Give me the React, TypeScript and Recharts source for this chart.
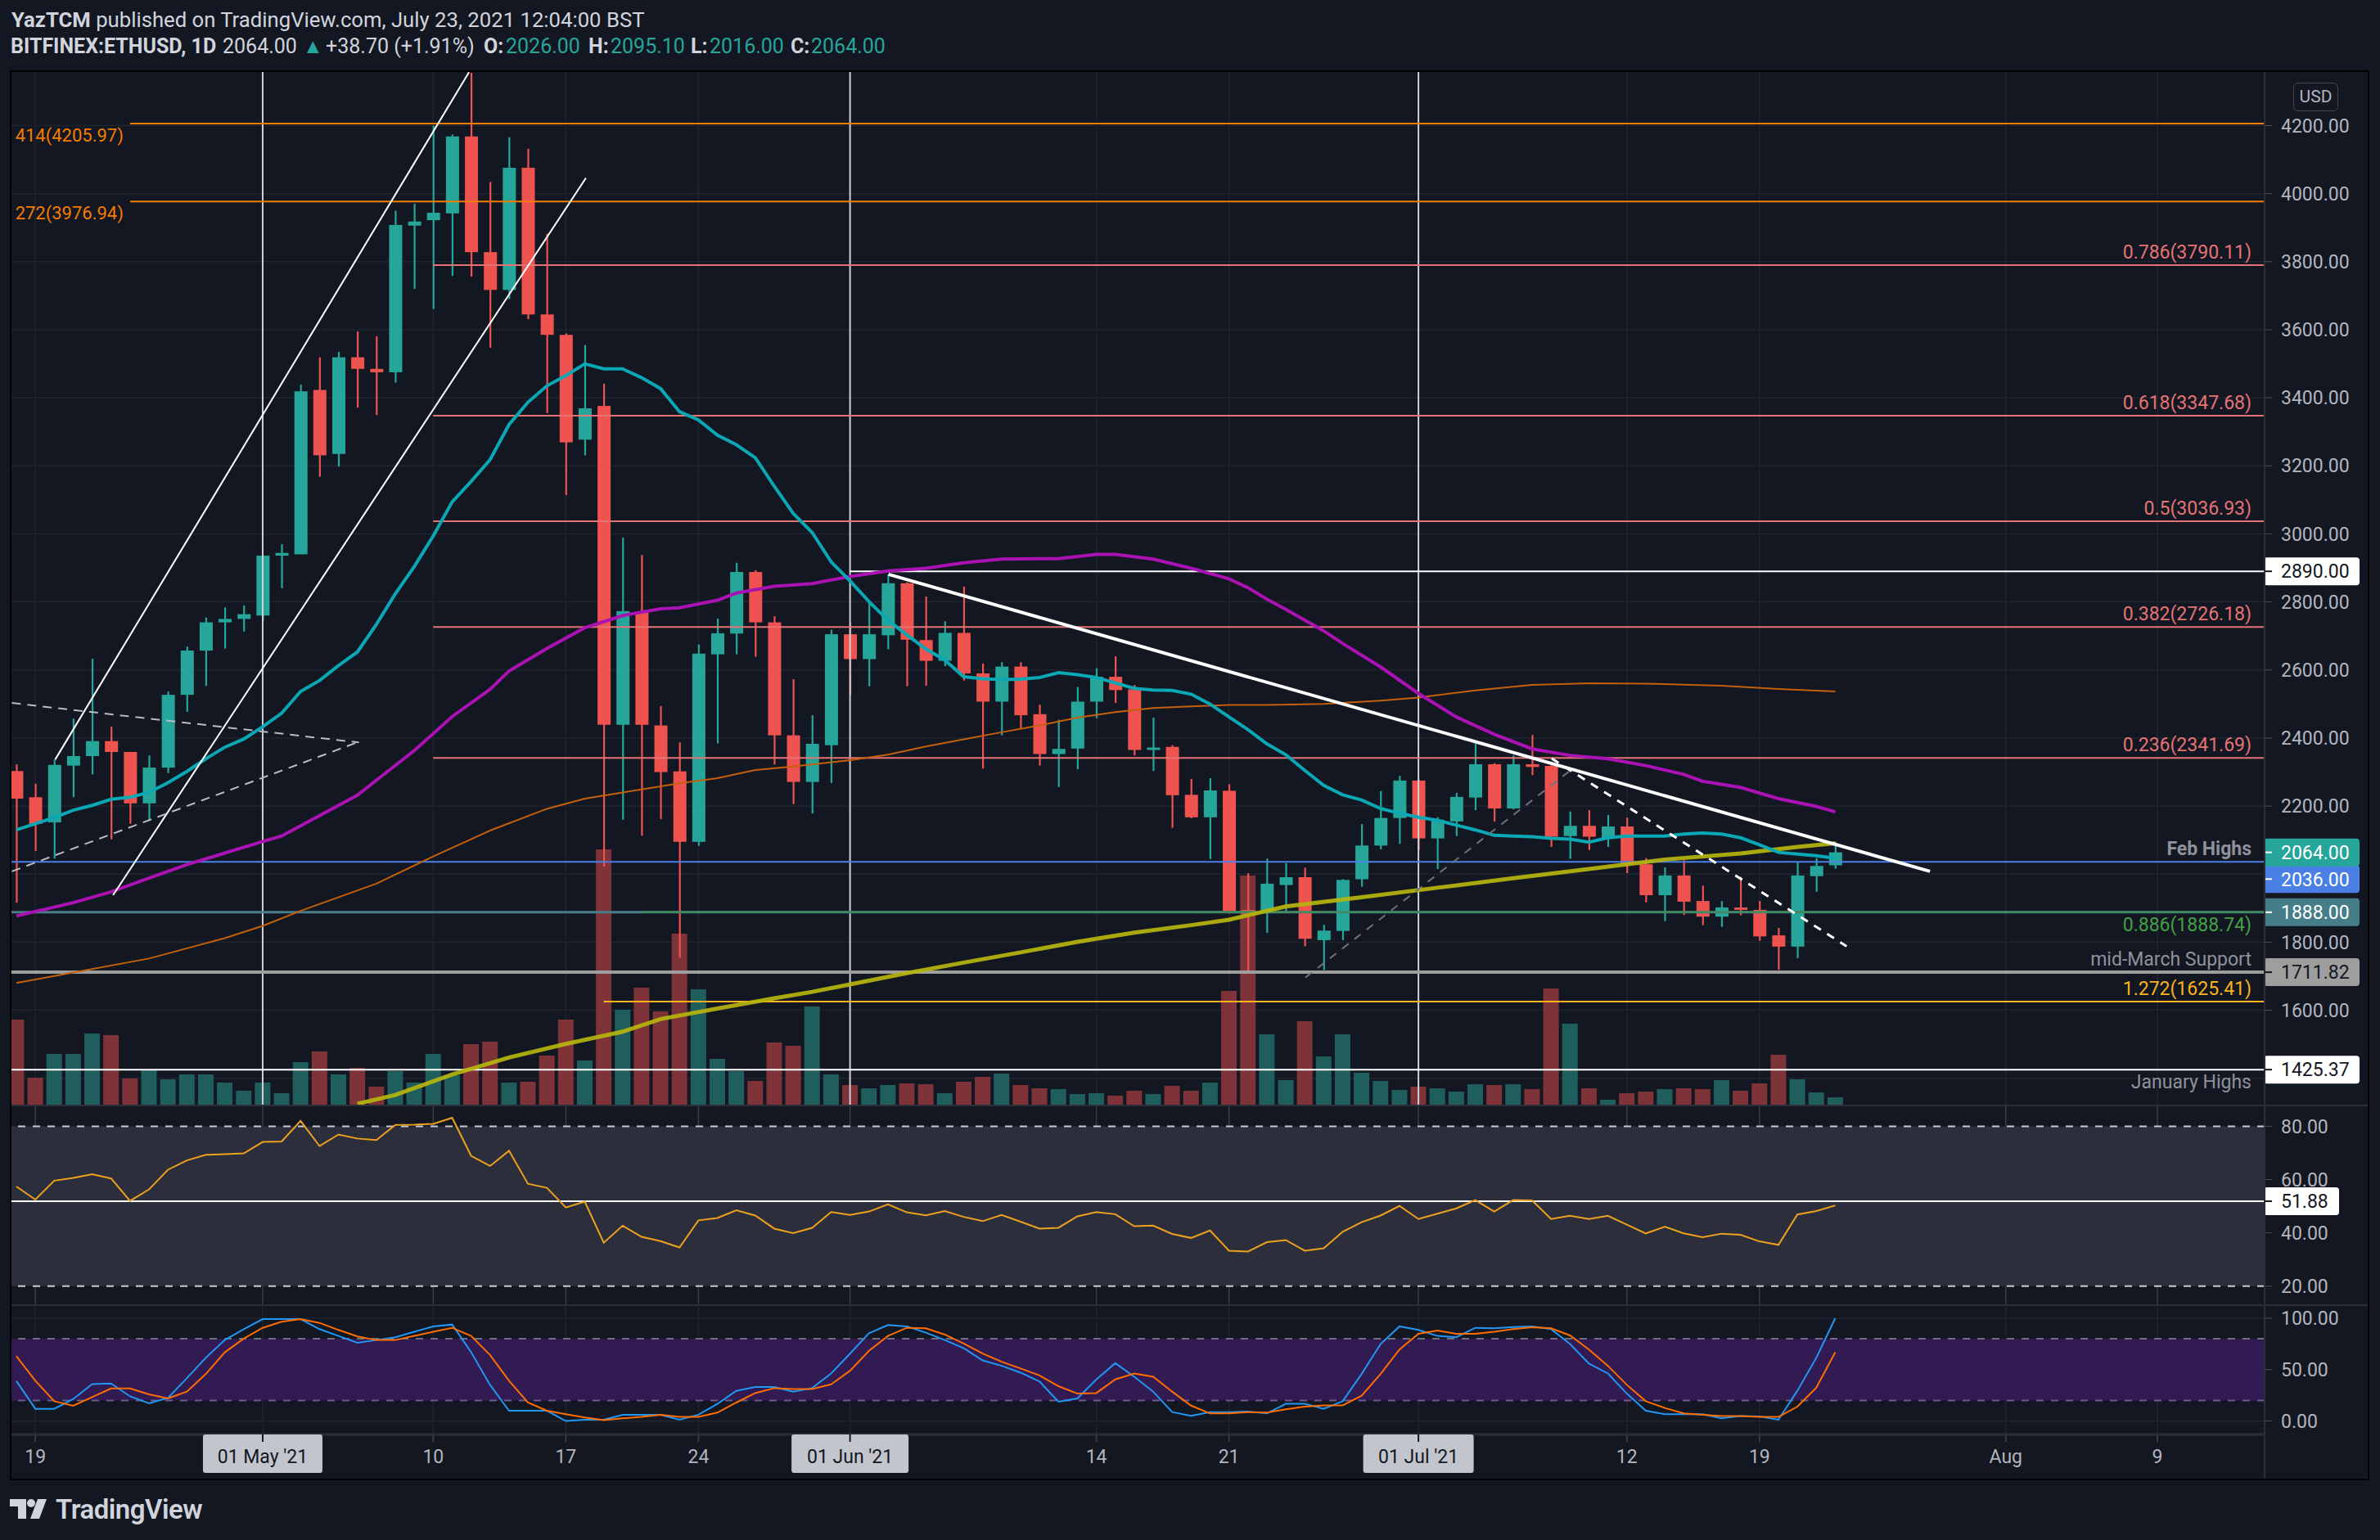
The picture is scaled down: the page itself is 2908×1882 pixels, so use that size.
import React from 'react';
import { ComposedChart, Bar, Line, XAxis, YAxis, CartesianGrid, ReferenceLine, ReferenceArea } from 'recharts';

// ---------------- data (one daily candle, 18 Apr 2021 .. 23 Jul 2021) ----------------
const FIRST_DAY = -1; // day index relative to 19 Apr 2021

const OPEN = [
  2303, 2226, 2152, 2319, 2347, 2391, 2359, 2208, 2313, 2527,
  2657, 2740, 2750, 2760, 2936, 2940, 3423, 3235, 3519, 3485,
  3475, 3906, 3922, 3942, 4168, 3828, 3717, 4076, 3645, 3585,
  3277, 3376, 2439, 2770, 2437, 2302, 2095, 2646, 2707, 2888,
  2740, 2408, 2271, 2379, 2705, 2632, 2702, 2855, 2688, 2627,
  2709, 2590, 2507, 2610, 2470, 2353, 2369, 2507, 2580, 2543,
  2365, 2374, 2233, 2167, 2245, 1895, 1885, 1968, 1991, 1806,
  1833, 1985, 2084, 2165, 2275, 2105, 2155, 2225, 2323, 2193,
  2323, 2318, 2112, 2142, 2106, 2140, 2029, 1938, 1996, 1921,
  1875, 1902, 1895, 1820, 1787, 1994, 2026,
];
const HIGH = [
  2323, 2266, 2337, 2457, 2633, 2433, 2359, 2349, 2537, 2669,
  2754, 2784, 2790, 2936, 2970, 3439, 3519, 3535, 3595, 3581,
  3950, 3970, 4200, 4174, 4355, 4034, 4166, 4132, 3882, 3589,
  3555, 3441, 2989, 2938, 2494, 2387, 2675, 2751, 2915, 2893,
  2758, 2573, 2467, 2718, 2738, 2797, 2881, 2858, 2816, 2743,
  2845, 2619, 2623, 2623, 2498, 2454, 2550, 2605, 2640, 2556,
  2460, 2379, 2280, 2282, 2264, 2003, 2046, 2032, 2019, 1851,
  1985, 2147, 2244, 2289, 2278, 2167, 2239, 2383, 2326, 2349,
  2409, 2320, 2184, 2188, 2174, 2166, 2047, 2020, 2041, 1966,
  1921, 1992, 1921, 1842, 2035, 2047, 2095.1,
];
const LOW = [
  1916, 2068, 2046, 2226, 2293, 2102, 2148, 2160, 2297, 2477,
  2553, 2663, 2713, 2744, 2840, 2940, 3168, 3198, 3371, 3349,
  3445, 3720, 3661, 3758, 3756, 3547, 3690, 3631, 3355, 3114,
  3231, 2022, 2160, 2113, 2162, 1754, 2083, 2384, 2646, 2639,
  2322, 2206, 2178, 2268, 2525, 2552, 2661, 2552, 2554, 2611,
  2569, 2310, 2408, 2426, 2319, 2256, 2308, 2458, 2503, 2349,
  2303, 2136, 2164, 2044, 1884, 1716, 1827, 1891, 1788, 1718,
  1806, 1963, 2073, 2089, 2070, 2015, 2112, 2188, 2155, 2190,
  2291, 2080, 2045, 2071, 2080, 2003, 1917, 1862, 1880, 1850,
  1845, 1879, 1804, 1719, 1753, 1948, 2016,
];
const CLOSE = [
  2222, 2148, 2321, 2347, 2391, 2359, 2208, 2313, 2527, 2657,
  2740, 2750, 2764, 2936, 2944, 3419, 3231, 3519, 3485, 3475,
  3908, 3918, 3944, 4168, 3828, 3717, 4076, 3645, 3585, 3269,
  3369, 2439, 2773, 2439, 2300, 2095, 2648, 2708, 2888, 2740,
  2408, 2271, 2383, 2705, 2632, 2705, 2855, 2689, 2627, 2709,
  2590, 2507, 2610, 2467, 2353, 2368, 2507, 2580, 2541, 2365,
  2372, 2232, 2167, 2246, 1891, 1882, 1972, 1991, 1810, 1834,
  1983, 2084, 2165, 2275, 2105, 2160, 2227, 2323, 2193, 2323,
  2315, 2110, 2142, 2110, 2140, 2029, 1938, 1996, 1919, 1875,
  1902, 1895, 1817, 1787, 1996, 2024, 2064,
];
// volume (relative units)
const VOLUME = [
  104, 33, 62, 62, 87, 85, 32, 42, 31, 37,
  37, 27, 17, 27, 14, 52, 65, 37, 45, 22,
  41, 27, 62, 36, 74, 77, 27, 28, 60, 104,
  54, 312, 116, 143, 114, 209, 141, 56, 41, 29,
  76, 72, 120, 37, 24, 20, 24, 26, 25, 14,
  28, 34, 38, 24, 20, 19, 13, 14, 11, 17,
  13, 23, 17, 27, 139, 280, 86, 30, 102, 59,
  86, 39, 29, 18, 22, 20, 16, 25, 24, 25,
  19, 142, 99, 20, 6, 14, 16, 19, 20, 19,
  30, 17, 26, 61, 31, 15, 9,
];
const MA20 = [
  2130, 2148, 2166, 2188, 2202, 2220, 2226, 2240, 2269, 2302,
  2339, 2373, 2397, 2433, 2473, 2537, 2569, 2613, 2653, 2734,
  2824, 2904, 2994, 3094, 3154, 3218, 3321, 3387, 3435, 3465,
  3500, 3485, 3485, 3459, 3427, 3359, 3335, 3290, 3262, 3224,
  3140, 3060, 3004, 2918, 2862, 2801, 2746, 2703, 2662, 2629,
  2580, 2574, 2572, 2573, 2578, 2592, 2586, 2578, 2562, 2546,
  2541, 2540, 2529, 2500, 2462, 2425, 2383, 2351, 2305, 2261,
  2233, 2218, 2193, 2179, 2167, 2158, 2144, 2130, 2114, 2112,
  2110, 2105, 2103, 2094, 2107, 2112, 2112, 2112, 2118, 2121,
  2118, 2107, 2086, 2064, 2059, 2054, 2047,
];
// [day, value] points
const MA50_PTS: [number, number][] = [
  [-1, 1877], [2, 1916], [4, 1948], [6, 1988], [8, 2028], [10, 2062], [12, 2096], [13, 2112], [15, 2172],
  [17, 2232], [18, 2276], [20, 2363], [22, 2463], [24, 2543], [25, 2597], [27, 2663], [29, 2724], [31, 2760],
  [33, 2780], [34, 2783], [36, 2805], [37, 2826], [39, 2846], [41, 2854], [43, 2875], [45, 2891], [47, 2899],
  [49, 2915], [51, 2926], [53, 2927], [54, 2927], [56, 2940], [57, 2940], [59, 2926], [61, 2899], [63, 2868],
  [64, 2842], [65, 2808], [66, 2778], [68, 2715], [69, 2678], [71, 2609], [73, 2531], [75, 2462], [77, 2411],
  [79, 2368], [81, 2349], [83, 2339], [85, 2319], [87, 2293], [88, 2273], [90, 2255], [92, 2222], [94, 2199], [95, 2183],
];
const MA100_PTS: [number, number][] = [
  [-1, 1680], [2, 1711], [6, 1752], [10, 1812], [12, 1848], [14, 1892], [18, 1972], [21, 2052], [24, 2128],
  [27, 2192], [29, 2222], [31, 2240], [34, 2267], [36, 2282], [38, 2306], [40, 2316], [43, 2335], [45, 2351],
  [47, 2375], [49, 2396], [51, 2417], [53, 2437], [55, 2460], [57, 2476], [59, 2488], [61, 2493], [63, 2497],
  [65, 2497], [68, 2500], [71, 2510], [73, 2519], [76, 2540], [79, 2556], [82, 2561], [85, 2560], [89, 2554],
  [92, 2544], [95, 2537],
];
const MA200_PTS: [number, number][] = [
  [17, 1325], [19, 1351], [22, 1411], [25, 1461], [28, 1501], [31, 1537], [33, 1574], [36, 1605], [39, 1635],
  [41, 1654], [43, 1676], [46, 1709], [49, 1740], [52, 1770], [55, 1801], [58, 1828], [61, 1850], [63, 1866],
  [66, 1905], [70, 1932], [74, 1960], [78, 1988], [82, 2015], [86, 2043], [90, 2061], [93, 2080], [95, 2091],
];
const RSI = [
  57.4, 52.5, 59.6, 60.6, 62.0, 60.4, 52.0, 56.3, 63.7, 67.2,
  69.3, 69.5, 69.8, 74.1, 74.3, 82.0, 72.6, 76.9, 75.4, 74.8,
  80.5, 80.6, 80.9, 83.2, 68.9, 65.1, 70.8, 58.4, 56.9, 49.5,
  51.7, 36.3, 42.7, 38.5, 36.9, 34.5, 44.7, 45.6, 48.5, 46.5,
  41.6, 39.9, 41.9, 47.8, 46.7, 48.0, 50.7, 47.7, 46.6, 48.2,
  46.0, 44.4, 46.7, 44.2, 41.6, 41.9, 46.2, 47.8, 47.0, 42.5,
  42.7, 39.6, 38.1, 40.9, 33.3, 33.0, 36.5, 37.3, 33.3, 34.2,
  40.4, 44.0, 46.5, 50.1, 45.2, 47.2, 49.2, 52.3, 48.0, 52.3,
  52.2, 45.2, 46.4, 45.2, 46.4, 43.1, 39.8, 42.3, 39.8, 38.4,
  39.7, 39.3, 36.8, 35.5, 46.9, 48.2, 50.3,
];
const STOCH_K = [
  39, 11.9, 11.9, 21.4, 36, 36.5, 24, 17.2, 22.5, 41.8,
  61.6, 78.8, 89.4, 99.2, 99.2, 99.2, 89.4, 82.8, 76.2, 78.8,
  81.5, 86.8, 92, 93.9, 67, 35.2, 10, 10, 10, 0,
  1.3, 1.3, 6.1, 6.1, 6.1, 1.3, 6.1, 16.7, 29.4, 33.1,
  33.1, 28.6, 32, 46.3, 65.6, 85.4, 93.4, 92.1, 86, 78.8,
  70.9, 59, 53.7, 47.1, 38.4, 18.8, 22, 40.5, 56.3, 43.1,
  28.6, 8.7, 5, 8.7, 8.7, 9.3, 7.4, 16.7, 16.7, 11.9,
  19.3, 45.8, 74.9, 92.1, 88.6, 82.8, 81.5, 90.7, 90.2, 91.5,
  92.1, 89.4, 74.9, 55.8, 46.3, 26.7, 10, 6.6, 6.6, 6.6,
  2.6, 4.8, 4.5, 1.3, 29.4, 61.6, 100,
];
const STOCH_D = [
  63, 39.2, 19.3, 14.8, 23.3, 31.7, 31.7, 25.9, 22, 28.6,
  45.8, 66.9, 80.2, 90.7, 96.6, 99.2, 95.5, 88.6, 82.3, 78.8,
  78.8, 82.8, 86.8, 90.7, 82.8, 64.3, 39.2, 18, 10, 6.6,
  3.4, 0.8, 2.6, 4, 6.1, 4, 4, 8.2, 18, 27.2,
  32, 31.2, 31.2, 35.7, 48.9, 68.3, 82.8, 90.7, 90.2, 84.1,
  75.4, 65.6, 57.7, 51.1, 44.4, 33.9, 26.7, 27.2, 40.5, 46.3,
  43.1, 28.6, 15, 7.4, 7.4, 8.7, 8.2, 11.4, 14, 15.3,
  15.3, 24.6, 45.8, 69.6, 84.9, 88.1, 84.9, 84.9, 86.8, 89.4,
  91.3, 90.2, 83.3, 69.6, 53.7, 35.2, 19.3, 12.7, 7.4, 6.1,
  4.8, 4.8, 4, 4, 14, 32.5, 66.9,
];

const X_TICKS = [0, 12, 21, 28, 35, 43, 56, 63, 73, 84, 91, 104, 112];
const X_TICK_LABELS = ['19', "01 May '21", '10', '17', '24', "01 Jun '21", '14', '21', "01 Jul '21", '12', '19', 'Aug', '9'];
const MONTH_STARTS = [12, 43, 73];
const PRICE_TICKS = [1600, 1800, 2200, 2400, 2600, 2800, 3000, 3200, 3400, 3600, 3800, 4000, 4200];
const PRICE_GRID = [1400, 1600, 1800, 2000, 2200, 2400, 2600, 2800, 3000, 3200, 3400, 3600, 3800, 4000, 4200];
const RSI_TICKS = [20, 40, 60, 80];
const STOCH_TICKS = [0, 50, 100];

const FIB_EXT = [
  { label: '414(4205.97)', value: 4205.97, from: 5 },
  { label: '272(3976.94)', value: 3976.94, from: 5 },
];
const FIB_RETRACE = [
  { label: '0.786(3790.11)', value: 3790.11 },
  { label: '0.618(3347.68)', value: 3347.68 },
  { label: '0.5(3036.93)', value: 3036.93 },
  { label: '0.382(2726.18)', value: 2726.18 },
  { label: '0.236(2341.69)', value: 2341.69 },
];
const FIB_RETRACE_FROM = 21;

// ---------------- axis setup ----------------
const X_DOMAIN: [number, number] = [-1.26, 117.66];
const PRICE_DOMAIN: [number, number] = [1322.4, 4357.5];
const VOL_DOMAIN: [number, number] = [0, 1262];
const RSI_DOMAIN: [number, number] = [13.18, 87.49];
const STOCH_DOMAIN: [number, number] = [-13.06, 111.94];

const ptsLookup = (pts: [number, number][]) => {
  const m = new Map(pts);
  return (t: number) => (m.has(t) ? (m.get(t) as number) : null);
};
const ma50 = ptsLookup(MA50_PTS);
const ma100 = ptsLookup(MA100_PTS);
const ma200 = ptsLookup(MA200_PTS);

const rows = OPEN.map((o, i) => {
  const t = FIRST_DAY + i;
  return {
    t,
    open: o,
    high: HIGH[i],
    low: LOW[i],
    close: CLOSE[i],
    range: [LOW[i], HIGH[i]],
    vol: VOLUME[i],
    up: CLOSE[i] >= o,
    ma20: MA20[i],
    ma50: ma50(t),
    ma100: ma100(t),
    ma200: ma200(t),
    rsi: RSI[i],
    k: STOCH_K[i],
    d: STOCH_D[i],
  };
});

// ---------------- styling ----------------
const FONT = 'Roboto, "Noto Sans", sans-serif';
const BG = '#131722';
const UP = '#26a69a';
const DOWN = '#ef5350';
const W = 2879;
const AX_W = 126;
const AXIS_TEXT = '#b2b5be';
const GRID = '#20242f';
const SALMON = '#e57373';
const ORANGE = '#f57c00';

const CandleShape = (props: any) => {
  const { x, y, width, height } = props;
  const d = props.payload || {};
  if (x == null || y == null || !isFinite(height) || d.high == null) return <g />;
  const top = Math.min(y, y + height);
  const h = Math.abs(height);
  const span = d.high - d.low || 1;
  const toY = (v: number) => top + ((d.high - v) / span) * h;
  const yo = toY(d.open);
  const yc = toY(d.close);
  const color = d.close >= d.open ? UP : DOWN;
  const cx = x + width / 2;
  const bTop = Math.min(yo, yc);
  const bH = Math.max(Math.abs(yo - yc), 2.5);
  return (
    <g>
      <line x1={cx} x2={cx} y1={top} y2={top + h} stroke={color} strokeWidth={2.2} />
      <rect x={x} y={bTop} width={width} height={bH} fill={color} />
    </g>
  );
};

const VolumeShape = (props: any) => {
  const { x, y, width, height } = props;
  const d = props.payload || {};
  if (x == null || y == null || !isFinite(height)) return <g />;
  return <rect x={x} y={Math.min(y, y + height)} width={width} height={Math.abs(height)} fill={d.up ? '#1f5e5c' : '#7d3337'} />;
};

type Tag = { text: string; bg: string; fg: string; dy?: number; w?: number };
type Lbl = { text?: string; color?: string; below?: boolean; bold?: boolean; left?: string; leftColor?: string; tag?: Tag };

const lbl = (o: Lbl) => (p: any) => {
  const vb = p.viewBox || {};
  const x0 = vb.x ?? 0;
  const y0 = vb.y ?? 0;
  const xr = x0 + (vb.width ?? 0);
  const tg = o.tag;
  const ty = y0 + (tg?.dy ?? 0);
  return (
    <g>
      {o.text && (
        <text x={xr - 16} y={o.below ? y0 + 23 : y0 - 8} textAnchor="end" fill={o.color} fontSize={23}
          fontWeight={o.bold ? 700 : 400} fontFamily={FONT}>{o.text}</text>
      )}
      {o.left && (
        <text x={x0 - 8} y={y0 + 22} textAnchor="end" fill={o.leftColor} fontSize={22} fontFamily={FONT}>{o.left}</text>
      )}
      {tg && (
        <g>
          <rect x={xr - 1} y={ty - 17} width={tg.w ?? 117} height={34} rx={4} fill={tg.bg} />
          <line x1={xr} x2={xr + 9} y1={ty} y2={ty} stroke={tg.fg} strokeWidth={2} />
          <text x={xr + 20} y={ty} dy="0.36em" fill={tg.fg} fontSize={23} fontFamily={FONT}>{tg.text}</text>
        </g>
      )}
    </g>
  );
};

const BOX_W: Record<string, number> = { "01 May '21": 146, "01 Jun '21": 143, "01 Jul '21": 135 };

const TimeTick = (props: any) => {
  const { x, y, payload } = props;
  const v = payload?.value;
  const idx = X_TICKS.indexOf(v);
  const label = idx >= 0 ? X_TICK_LABELS[idx] : '';
  const boxed = MONTH_STARTS.includes(v);
  const bw = BOX_W[label] ?? 140;
  return (
    <g>
      {boxed && <rect x={x - bw / 2} y={y} width={bw} height={47} rx={3} fill="#c3c5cc" />}
      <line x1={x} x2={x} y1={y} y2={y + 9} stroke={boxed ? '#131722' : '#363a45'} strokeWidth={2} />
      <text x={x} y={y + 35} textAnchor="middle" fill={boxed ? '#131722' : AXIS_TEXT} fontSize={23} fontFamily={FONT}>{label}</text>
    </g>
  );
};

const yTick = { fill: AXIS_TEXT, fontSize: 23, fontFamily: FONT };
const fmt2 = (v: number) => Number(v).toFixed(2);
const M0 = { top: 0, right: 0, bottom: 0, left: 0 };

const MainPane = () => (
  <ComposedChart width={W} height={1262} data={rows} margin={M0}>
    <CartesianGrid stroke={GRID} strokeWidth={1.5} horizontalValues={PRICE_GRID} verticalValues={X_TICKS} />
    <XAxis dataKey="t" type="number" domain={X_DOMAIN} allowDataOverflow hide />
    <XAxis xAxisId="v" dataKey="t" type="number" domain={X_DOMAIN} allowDataOverflow hide />
    <YAxis orientation="right" width={AX_W} domain={PRICE_DOMAIN} allowDataOverflow ticks={PRICE_TICKS} interval={0}
      tickFormatter={fmt2} tick={yTick} tickSize={9} tickMargin={11} tickLine={{ stroke: '#4a4e59' }}
      axisLine={{ stroke: '#2a2e39', strokeWidth: 2 }} />
    <YAxis yAxisId="vol" domain={VOL_DOMAIN} allowDataOverflow hide />

    <Bar xAxisId="v" yAxisId="vol" dataKey="vol" barSize={19} shape={VolumeShape} isAnimationActive={false} />

    {MONTH_STARTS.map((t) => (
      <ReferenceLine key={'m' + t} x={t} stroke="#cfd1d6" strokeWidth={2} />
    ))}

    {FIB_EXT.map((f) => (
      <ReferenceLine key={f.label} segment={[{ x: f.from, y: f.value }, { x: X_DOMAIN[1], y: f.value }]}
        stroke={ORANGE} strokeWidth={2} label={lbl({ left: f.label, leftColor: ORANGE })} />
    ))}
    {FIB_RETRACE.map((f) => (
      <ReferenceLine key={f.label} segment={[{ x: FIB_RETRACE_FROM, y: f.value }, { x: X_DOMAIN[1], y: f.value }]}
        stroke={SALMON} strokeWidth={2} label={lbl({ text: f.label, color: SALMON })} />
    ))}
    <ReferenceLine segment={[{ x: 43, y: 2890 }, { x: X_DOMAIN[1], y: 2890 }]} stroke="#ffffff" strokeWidth={2}
      label={lbl({ tag: { text: '2890.00', bg: '#ffffff', fg: '#131722' } })} />
    <ReferenceLine y={1888} stroke="#4a7d88" strokeWidth={3}
      label={lbl({ tag: { text: '1888.00', bg: '#457d88', fg: '#ffffff' } })} />
    <ReferenceLine segment={[{ x: 32, y: 1888.74 }, { x: X_DOMAIN[1], y: 1888.74 }]} stroke="#3f8f52" strokeWidth={2}
      label={lbl({ text: '0.886(1888.74)', color: '#43a047', below: true })} />
    <ReferenceLine segment={[{ x: 30, y: 1625.41 }, { x: X_DOMAIN[1], y: 1625.41 }]} stroke="#f9b31e" strokeWidth={2}
      label={lbl({ text: '1.272(1625.41)', color: '#f9b31e' })} />
    <ReferenceLine y={1711.82} stroke="#9e9e9e" strokeWidth={4}
      label={lbl({ text: 'mid-March Support', color: '#8f929b', tag: { text: '1711.82', bg: '#9e9e9e', fg: '#131722' } })} />
    <ReferenceLine y={1425.37} stroke="#ffffff" strokeWidth={2}
      label={lbl({ text: 'January Highs', color: '#8f929b', below: true, tag: { text: '1425.37', bg: '#ffffff', fg: '#131722' } })} />
    <ReferenceLine y={2036} stroke="#4a80e8" strokeWidth={2}
      label={lbl({ text: 'Feb Highs', color: '#8f929b', bold: true, tag: { text: '2036.00', bg: '#4a7fe6', fg: '#ffffff', dy: 21 } })} />

    <Line dataKey="ma100" stroke="#c4600c" strokeWidth={2} dot={false} activeDot={false} connectNulls isAnimationActive={false} />
    <Line dataKey="ma200" stroke="#b6b50c" strokeOpacity={0.92} strokeWidth={5} dot={false} activeDot={false} connectNulls isAnimationActive={false} />
    <Line dataKey="ma50" stroke="#aa12b4" strokeWidth={4} dot={false} activeDot={false} connectNulls isAnimationActive={false} />
    <Line dataKey="ma20" stroke="#0aa8b4" strokeWidth={4} dot={false} activeDot={false} connectNulls isAnimationActive={false} />

    <Bar dataKey="range" barSize={16} shape={CandleShape} isAnimationActive={false} />

    {/* trendlines */}
    <ReferenceLine segment={[{ x: 1.05, y: 2337 }, { x: 22.89, y: 4357 }]} stroke="#ffffff" strokeWidth={2} />
    <ReferenceLine segment={[{ x: 4.1, y: 1938 }, { x: 29.06, y: 4046 }]} stroke="#ffffff" strokeWidth={2} />
    <ReferenceLine segment={[{ x: -1.24, y: 2503 }, { x: 17.08, y: 2387 }]} stroke="#b9bcc4" strokeWidth={2} strokeDasharray="11 8" />
    <ReferenceLine segment={[{ x: -1.24, y: 2008 }, { x: 17.08, y: 2389 }]} stroke="#b9bcc4" strokeWidth={2} strokeDasharray="11 8" />
    <ReferenceLine segment={[{ x: 45.03, y: 2881 }, { x: 100, y: 2008 }]} stroke="#ffffff" strokeWidth={4} />
    <ReferenceLine segment={[{ x: 67.03, y: 1696 }, { x: 81.02, y: 2305 }]} stroke="#6f727c" strokeWidth={2} strokeDasharray="10 9" />
    <ReferenceLine segment={[{ x: 80.03, y: 2340 }, { x: 95.6, y: 1788 }]} stroke="#ffffff" strokeWidth={3} strokeDasharray="10 9" />

    <ReferenceLine y={2064} stroke="none" strokeOpacity={0}
      label={lbl({ tag: { text: '2064.00', bg: UP, fg: '#ffffff' } })} />
  </ComposedChart>
);

const RsiPane = () => (
  <ComposedChart width={W} height={242} data={rows} margin={M0}>
    <XAxis dataKey="t" type="number" domain={X_DOMAIN} allowDataOverflow hide />
    <YAxis orientation="right" width={AX_W} domain={RSI_DOMAIN} allowDataOverflow ticks={RSI_TICKS} interval={0}
      tickFormatter={fmt2} tick={yTick} tickSize={9} tickMargin={11} tickLine={{ stroke: '#4a4e59' }}
      axisLine={{ stroke: '#2a2e39', strokeWidth: 2 }} />
    <ReferenceArea y1={20} y2={80} fill="#2c2f3b" fillOpacity={1} stroke="none" />
    <CartesianGrid stroke="#393c48" strokeWidth={1.5} horizontalValues={[40, 60]} verticalValues={X_TICKS} />
    <ReferenceLine y={80} stroke="#c9cbd1" strokeWidth={2} strokeDasharray="9 9" />
    <ReferenceLine y={20} stroke="#c9cbd1" strokeWidth={2} strokeDasharray="9 9" />
    <ReferenceLine y={51.88} stroke="#ffffff" strokeWidth={2}
      label={lbl({ tag: { text: '51.88', bg: '#ffffff', fg: '#131722', w: 92 } })} />
    <Line dataKey="rsi" stroke="#eda11f" strokeWidth={2} dot={false} activeDot={false} isAnimationActive={false} />
  </ComposedChart>
);

const StochPane = () => (
  <ComposedChart width={W} height={211} data={rows} margin={M0}>
    <CartesianGrid stroke={GRID} strokeWidth={1.5} horizontalValues={STOCH_TICKS} verticalValues={X_TICKS} />
    <XAxis dataKey="t" type="number" domain={X_DOMAIN} allowDataOverflow ticks={X_TICKS} interval={0} height={54}
      tick={<TimeTick />} tickSize={0} tickMargin={0} tickLine={false} axisLine={{ stroke: '#2a2e39', strokeWidth: 3 }} />
    <YAxis orientation="right" width={AX_W} domain={STOCH_DOMAIN} allowDataOverflow ticks={STOCH_TICKS} interval={0}
      tickFormatter={fmt2} tick={yTick} tickSize={9} tickMargin={11} tickLine={{ stroke: '#4a4e59' }}
      axisLine={{ stroke: '#2a2e39', strokeWidth: 2 }} />
    <ReferenceArea y1={20} y2={80} fill="#321b53" fillOpacity={1} stroke="none" />
    <ReferenceLine y={80} stroke="#6d707b" strokeWidth={2} strokeDasharray="9 9" />
    <ReferenceLine y={20} stroke="#6b5b8e" strokeWidth={2} strokeDasharray="9 9" />
    <Line dataKey="k" stroke="#2196f3" strokeWidth={2} dot={false} activeDot={false} isAnimationActive={false} />
    <Line dataKey="d" stroke="#ff6d00" strokeWidth={2} dot={false} activeDot={false} isAnimationActive={false} />
  </ComposedChart>
);

const abs = (left: number, top: number, extra: React.CSSProperties = {}): React.CSSProperties => ({
  position: 'absolute', left, top, ...extra,
});

export default function App() {
  const teal = { color: UP };
  const h2 = { fontSize: 25, lineHeight: '28px', whiteSpace: 'nowrap' as const };
  return (
    <div style={{ position: 'absolute', left: 0, top: 0, width: 2908, height: 1882, background: BG, overflow: 'hidden', fontFamily: FONT, color: '#d1d4dc' }}>
      {/* header */}
      <div style={abs(14, 9, { fontSize: 25.7, lineHeight: '30px', whiteSpace: 'nowrap' })}>
        <b>YazTCM</b> published on TradingView.com, July 23, 2021 12:04:00 BST
      </div>
      <div style={abs(13, 43, { ...h2, fontWeight: 700 })}>BITFINEX:ETHUSD, 1D</div>
      <div style={abs(272, 43, h2)}>2064.00</div>
      <div style={abs(370, 43, { ...h2, ...teal })}>▲</div>
      <div style={abs(398, 43, h2)}>+38.70 (+1.91%)</div>
      <div style={abs(591, 43, { ...h2, fontWeight: 700 })}>O:</div>
      <div style={abs(618, 43, { ...h2, ...teal })}>2026.00</div>
      <div style={abs(719, 43, { ...h2, fontWeight: 700 })}>H:</div>
      <div style={abs(746, 43, { ...h2, ...teal })}>2095.10</div>
      <div style={abs(844, 43, { ...h2, fontWeight: 700 })}>L:</div>
      <div style={abs(867, 43, { ...h2, ...teal })}>2016.00</div>
      <div style={abs(966, 43, { ...h2, fontWeight: 700 })}>C:</div>
      <div style={abs(991, 43, { ...h2, ...teal })}>2064.00</div>

      {/* chart frame */}
      <div style={abs(12, 86, { width: 2883, height: 1723, border: '2px solid #000', boxSizing: 'border-box' })} />

      <div style={abs(14, 88, { width: W, height: 1262, overflow: 'hidden' })}><MainPane /></div>
      <div style={abs(14, 1350, { width: W, height: 2, background: '#2a2e39' })} />
      <div style={abs(14, 1352, { width: W, height: 242, overflow: 'hidden' })}><RsiPane /></div>
      <div style={abs(14, 1594, { width: W, height: 2, background: '#2a2e39' })} />
      <div style={abs(14, 1596, { width: W, height: 211, overflow: 'hidden' })}><StochPane /></div>
      <div style={abs(2766, 1753, { width: 2, height: 54, background: '#2a2e39' })} />

      {/* currency tag */}
      <div style={abs(2802, 101, { width: 55, height: 35, border: '1.5px solid #434651', borderRadius: 6, boxSizing: 'border-box', fontSize: 21, lineHeight: '32px', textAlign: 'center', color: AXIS_TEXT })}>USD</div>

      {/* TradingView wordmark */}
      <svg style={abs(12, 1830)} width={46} height={28} viewBox="0 0 46 28">
        <path d="M0 2 H20 V26 H10 V11 H0 Z" fill="#d1d4dc" />
        <circle cx={26} cy={7} r={5} fill="#d1d4dc" />
        <path d="M34 2 H45 L36 26 H25 Z" fill="#d1d4dc" />
      </svg>
      <div style={abs(68, 1826, { fontSize: 33, lineHeight: '38px', fontWeight: 600, color: '#d1d4dc', letterSpacing: -0.5 })}>TradingView</div>
    </div>
  );
}
